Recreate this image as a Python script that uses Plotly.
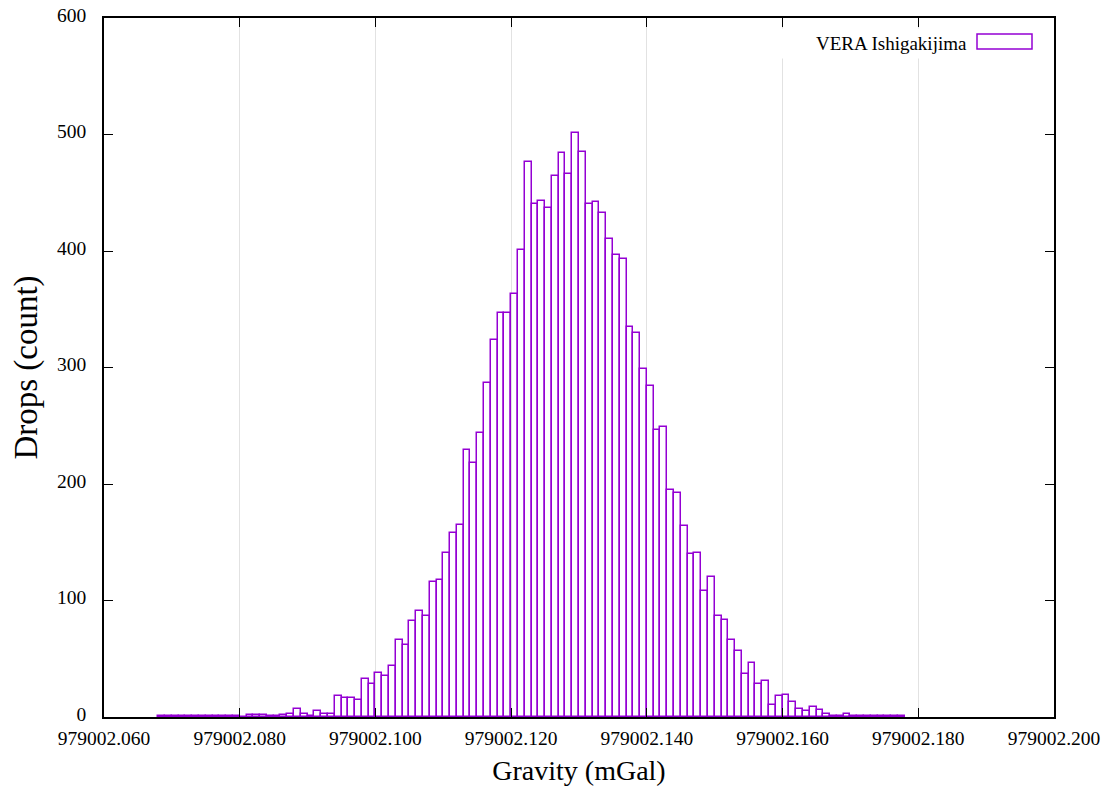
import plotly.graph_objects as go

# ---- data ----
bin_start = 979002.060      # left edge of first bin (mGal)
bin_width = 0.001           # histogram bin width (mGal)
first_bin = 8               # index of first non-empty bin from bin_start
counts = [
    1, 1, 1, 1, 1, 1, 1, 1, 1, 1, 1, 1, 0,          # bins 8-20
    2, 2, 2, 1, 1, 2, 3, 7, 3, 1, 5, 3, 3,          # bins 21-33
    18, 16, 16, 15, 33, 28, 38, 35, 44, 66,         # bins 34-43
    62, 82, 91, 87, 116, 118, 141, 158, 165, 229,   # bins 44-53
    218, 244, 287, 324, 347, 347, 363, 401, 476, 440,  # bins 54-63
    443, 437, 464, 484, 466, 501, 485, 440, 442, 433,  # bins 64-73
    410, 397, 393, 335, 330, 299, 284, 246, 249, 195,  # bins 74-83
    192, 164, 140, 141, 108, 120, 87, 83, 66, 57,      # bins 84-93
    37, 46, 28, 31, 10, 18, 19, 13, 7, 5,              # bins 94-103
    9, 6, 3, 1, 1, 3, 1, 1, 1, 1, 1, 1, 1, 1,          # bins 104-117
]
series_name = "VERA Ishigakijima"
x_ticks = [979002.060, 979002.080, 979002.100, 979002.120,
           979002.140, 979002.160, 979002.180, 979002.200]
x_tick_labels = ["979002.060", "979002.080", "979002.100", "979002.120",
                 "979002.140", "979002.160", "979002.180", "979002.200"]
y_ticks = [0, 100, 200, 300, 400, 500, 600]

bin_lefts = [bin_start + (first_bin + i) * bin_width for i in range(len(counts))]

PURPLE = "#9400D3"
FONT = "Liberation Serif"

# plot area in pixels
L, R, T, B = 104, 1054, 18, 717
PW, PH = R - L, B - T

fig = go.Figure()
fig.add_trace(go.Bar(
    x=bin_lefts, y=counts, width=bin_width, offset=0,
    name=series_name, showlegend=False,
    marker=dict(color="rgba(255,255,255,0)", line=dict(color=PURPLE, width=1.5)),
))

# gnuplot-style key: text, then an outlined sample box to its right
fig.add_shape(type="rect", xref="paper", yref="paper",
              x0=(977 - L) / PW, x1=(1032 - L) / PW,
              y0=(B - 49) / PH, y1=(B - 34) / PH,
              fillcolor="rgba(0,0,0,0)", line=dict(color=PURPLE, width=1.5))
fig.add_annotation(xref="paper", yref="paper",
                   x=(776 - L) / PW, y=(B - 28) / PH,
                   xanchor="left", yanchor="top", showarrow=False,
                   width=190, height=29, align="right", valign="middle",
                   bgcolor="white", borderpad=0,
                   text=series_name, font=dict(family=FONT, size=19, color="black"))

fig.update_layout(
    width=1109, height=789,
    margin=dict(l=L, r=1109 - R, t=T, b=789 - B, autoexpand=False),
    plot_bgcolor="white", paper_bgcolor="white",
    bargap=0,
    font=dict(family=FONT, size=19, color="black"),
)
fig.update_xaxes(
    range=[979002.060, 979002.200],
    tickvals=x_ticks, ticktext=x_tick_labels,
    ticks="inside", ticklen=9, tickwidth=1.2, tickcolor="black",
    showline=True, linecolor="black", linewidth=1.5, mirror="ticks",
    showgrid=True, gridcolor="#e2e2e2", gridwidth=1,
    zeroline=False, automargin=False,
    ticklabelstandoff=3,
    tickfont=dict(family=FONT, size=19.5, color="black"),
    title=dict(text="Gravity (mGal)", font=dict(family=FONT, size=28, color="black"), standoff=12),
)
fig.update_yaxes(
    range=[0, 600],
    tickvals=y_ticks,
    ticks="inside", ticklen=9, tickwidth=1.2, tickcolor="black",
    showline=True, linecolor="black", linewidth=1.5, mirror="ticks",
    showgrid=False, zeroline=False, automargin=False,
    ticklabelstandoff=12, ticklabelshift=-3,
    tickfont=dict(family=FONT, size=19.5, color="black"),
    title=dict(text="Drops (count)", font=dict(family=FONT, size=33, color="black"), standoff=10),
)

fig.write_html("out.html")
